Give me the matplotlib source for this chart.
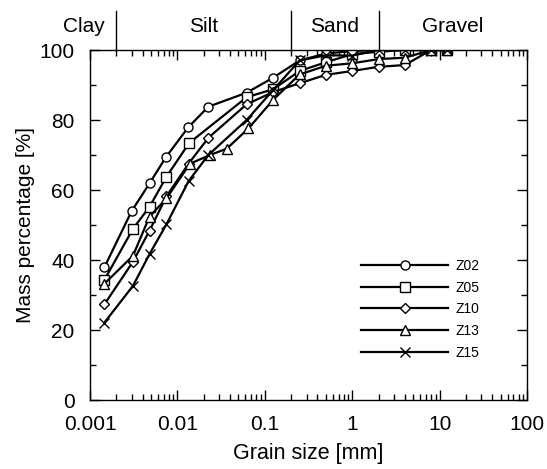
import numpy as np
import matplotlib.pyplot as plt
from matplotlib.ticker import LogLocator, FixedLocator, MultipleLocator, NullFormatter

plt.rcParams['font.family'] = ['Liberation Sans', 'DejaVu Sans']

# grain size distribution curves (hydrometer + sieve)
z02_size = [0.00146, 0.0030, 0.0048, 0.0074, 0.0133, 0.0226, 0.062, 0.123, 0.25, 0.5, 1, 2, 4, 8, 12]
z02_pass = [37.9, 54.0, 61.9, 69.4, 77.9, 83.8, 87.8, 92.0, 97.0, 99.0, 99.7, 100, 100, 100, 100]

z05_size = [0.00146, 0.0031, 0.0048, 0.0075, 0.0136, 0.062, 0.125, 0.25, 0.5, 1, 2, 4, 8, 12]
z05_pass = [34.3, 48.9, 55.2, 63.8, 73.4, 86.5, 88.8, 94.0, 96.5, 98.8, 99.5, 100, 100, 100]

z10_size = [0.00146, 0.0031, 0.0048, 0.0075, 0.0134, 0.0226, 0.062, 0.125, 0.25, 0.5, 1, 2, 4, 8, 12]
z10_pass = [27.3, 39.5, 48.4, 58.2, 67.5, 74.9, 84.5, 88.0, 90.5, 92.9, 94.0, 95.2, 95.7, 100, 100]

z13_size = [0.00146, 0.0031, 0.0048, 0.0075, 0.0139, 0.0236, 0.0367, 0.065, 0.125, 0.25, 0.5, 1, 2, 4, 8, 12]
z13_pass = [33.2, 41.2, 52.4, 57.6, 67.5, 70.0, 71.8, 77.6, 85.8, 93.0, 95.5, 96.2, 97.4, 97.8, 100, 100]

z15_size = [0.00146, 0.0031, 0.0048, 0.0075, 0.0134, 0.0226, 0.062, 0.125, 0.25, 0.5, 1, 2, 4, 8, 12]
z15_pass = [22.1, 32.6, 41.7, 50.2, 62.5, 70.0, 80.0, 88.6, 97.0, 98.5, 98.4, 100, 100, 100, 100]

series = [('Z02', z02_size, z02_pass, 'o'),
          ('Z05', z05_size, z05_pass, 's'),
          ('Z10', z10_size, z10_pass, 'D'),
          ('Z13', z13_size, z13_pass, '^'),
          ('Z15', z15_size, z15_pass, 'x')]

# soil class boundaries [mm] and label positions
class_bounds = [0.002, 0.2, 2]
class_names = ['Clay', 'Silt', 'Sand', 'Gravel']
class_label_x = [0.00085, 0.02, 0.63, 14]

fig = plt.figure(figsize=(5.47, 4.69), dpi=100)
ax = fig.add_axes([90/547, 69/469, 437/547, 350/469])

for name, xs, ys, m in series:
    ms = 6.5 if m != 'D' else 4.6
    ax.plot(xs, ys, color='black', lw=1.6, marker=m, ms=ms,
            mfc='white', mec='black', mew=1.0, label=name)

ax.set_xscale('log')
ax.set_xlim(0.001, 100)
ax.set_ylim(0, 100)

ax.xaxis.set_major_locator(FixedLocator([0.001, 0.01, 0.1, 1, 10, 100]))
ax.set_xticklabels(['0.001', '0.01', '0.1', '1', '10', '100'])
ax.xaxis.set_minor_locator(LogLocator(base=10, subs=np.arange(2, 10), numticks=20))
ax.xaxis.set_minor_formatter(NullFormatter())
ax.yaxis.set_major_locator(MultipleLocator(20))
ax.yaxis.set_minor_locator(MultipleLocator(10))

ax.tick_params(which='both', direction='in', top=True, right=True, labelsize=15, width=1)
ax.tick_params(which='major', length=7, pad=11)
ax.tick_params(which='minor', length=4)
for sp in ax.spines.values():
    sp.set_linewidth(1)

ax.set_xlabel('Grain size [mm]', fontsize=15.5, labelpad=6)
ax.set_ylabel('Mass percentage [%]', fontsize=15, labelpad=3)

# class divisions above the frame
trans = ax.get_xaxis_transform()
for b in class_bounds:
    ax.plot([b, b], [1.0, 1.11], color='black', lw=1, transform=trans, clip_on=False)
for name, xc in zip(class_names, class_label_x):
    ax.text(xc, 1.05, name, transform=trans, ha='center', va='baseline', fontsize=15)

ax.legend(loc='lower right', bbox_to_anchor=(0.92, 0.08), frameon=False, fontsize=10,
          handlelength=6.3, labelspacing=0.55, handletextpad=0.5)

plt.savefig('out.png', dpi=100)
